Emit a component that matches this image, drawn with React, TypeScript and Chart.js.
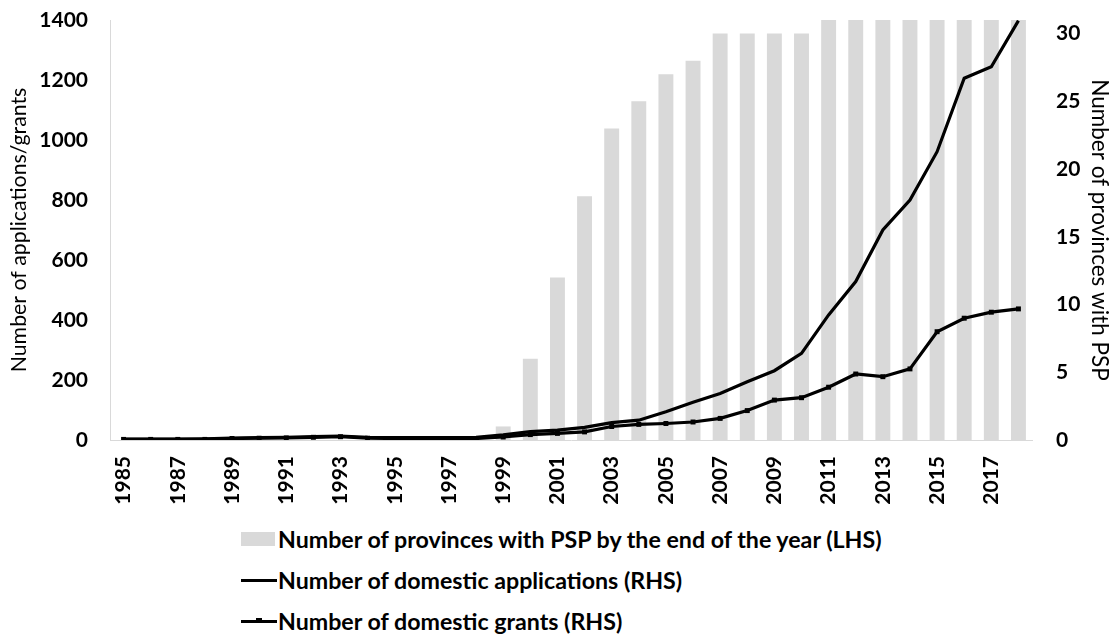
import React, { useEffect, useRef } from "react";
import { Chart, registerables } from "chart.js";

Chart.register(...registerables);

const years = [
  "1985", "1986", "1987", "1988", "1989", "1990", "1991", "1992", "1993", "1994",
  "1995", "1996", "1997", "1998", "1999", "2000", "2001", "2002", "2003", "2004",
  "2005", "2006", "2007", "2008", "2009", "2010", "2011", "2012", "2013", "2014",
  "2015", "2016", "2017", "2018",
];

// Number of provinces with PSP (plotted against the right-hand axis)
const provinces = [
  0, 0, 0, 0, 0, 0, 0, 0, 0, 0,
  0, 0, 0, 0, 1, 6, 12, 18, 23, 25,
  27, 28, 30, 30, 30, 30, 31, 31, 31, 31,
  31, 31, 31, 31,
];

// Number of domestic applications (left-hand axis)
const applications = [
  3, 3, 3, 4, 6, 8, 9, 11, 13, 9,
  8, 8, 8, 9, 17, 28, 33, 42, 58, 66,
  94, 126, 155, 194, 231, 289, 417, 528, 700, 800,
  961, 1206, 1244, 1398,
];

// Number of domestic grants (left-hand axis)
const grants = [
  2, 2, 2, 2, 5, 6, 7, 9, 11, 6,
  5, 5, 5, 5, 10, 18, 22, 27, 45, 52,
  55, 60, 72, 98, 133, 141, 176, 220, 211, 237,
  361, 406, 426, 437,
];

const leftTicks = [0, 200, 400, 600, 800, 1000, 1200, 1400];
const rightTicks = [0, 5, 10, 15, 20, 25, 30];

const FONT = "Lato, 'Open Sans', 'DejaVu Sans', sans-serif";

const legendItems = [
  { kind: "bar", text: "Number of provinces with PSP by the end of the year (LHS)" },
  { kind: "line", text: "Number of domestic applications (RHS)" },
  { kind: "marker", text: "Number of domestic grants (RHS)" },
];

const zeroPad = (s: any) => {
  s.paddingTop = 0;
  s.paddingBottom = 0;
  s.paddingLeft = 0;
  s.paddingRight = 0;
};

export default function App() {
  const ref = useRef<HTMLCanvasElement>(null);

  useEffect(() => {
    document.body.style.margin = "0";
    const tickFont = { family: FONT, size: 21, weight: "bold" as const };
    const chart = new Chart(ref.current!, {
      type: "bar",
      data: {
        labels: years,
        datasets: [
          {
            type: "line",
            label: "Number of domestic applications (RHS)",
            data: applications,
            yAxisID: "y",
            borderColor: "#000",
            backgroundColor: "#000",
            borderWidth: 3.2,
            pointRadius: 0,
            tension: 0,
            order: 1,
          },
          {
            type: "line",
            label: "Number of domestic grants (RHS)",
            data: grants,
            yAxisID: "y",
            borderColor: "#000",
            backgroundColor: "#000",
            borderWidth: 3.2,
            pointStyle: "rect",
            pointRadius: 3.5,
            pointBorderWidth: 0,
            tension: 0,
            order: 2,
          },
          {
            type: "bar",
            label: "Number of provinces with PSP by the end of the year (LHS)",
            data: provinces,
            yAxisID: "y1",
            backgroundColor: "#d9d9d9",
            barPercentage: 0.55,
            categoryPercentage: 1,
            order: 3,
          },
        ],
      },
      options: {
        responsive: false,
        animation: false,
        layout: { padding: { top: 20, left: 0, right: 0, bottom: 0 } },
        plugins: { legend: { display: false }, tooltip: { enabled: false } },
        scales: {
          x: {
            grid: { display: false, drawTicks: false },
            border: { display: true, color: "#d9d9d9", width: 1 },
            ticks: {
              autoSkip: false,
              minRotation: 90,
              maxRotation: 90,
              padding: 16,
              color: "#000",
              font: tickFont,
              callback: (_v: any, i: number) => (i % 2 === 0 ? years[i] : ""),
            },
            afterFit: (s: any) => {
              s.height = 70;
              zeroPad(s);
            },
          },
          y: {
            position: "left",
            min: 0,
            max: 1400,
            grid: { display: false, drawTicks: false },
            border: { display: true, color: "#d9d9d9", width: 1 },
            afterBuildTicks: (s: any) => {
              s.ticks = leftTicks.map((v) => ({ value: v }));
            },
            ticks: {
              padding: 22,
              color: "#000",
              font: tickFont,
              callback: (v: any) => String(v),
            },
            title: {
              display: true,
              text: "Number of applications/grants",
              color: "#000",
              font: { family: FONT, size: 21.3, weight: "normal" },
              padding: { top: 6, bottom: 4 },
            },
            afterFit: (s: any) => {
              s.width = 110;
              zeroPad(s);
            },
          },
          y1: {
            position: "right",
            min: 0,
            max: 31,
            grid: { display: false, drawTicks: false },
            border: { display: false },
            afterBuildTicks: (s: any) => {
              s.ticks = rightTicks.map((v) => ({ value: v }));
            },
            ticks: {
              padding: 24,
              color: "#000",
              font: tickFont,
              callback: (v: any) => String(v),
            },
            title: {
              display: true,
              text: "Number of provinces with PSP",
              color: "#000",
              font: { family: FONT, size: 22.5, weight: "normal" },
              padding: { top: 4, bottom: 4 },
            },
            afterFit: (s: any) => {
              s.width = 85;
              zeroPad(s);
            },
          },
        },
      },
    });
    return () => chart.destroy();
  }, []);

  return (
    <div style={{ width: 1117, height: 638, background: "#fff", fontFamily: FONT }}>
      <canvas ref={ref} width={1117} height={510} style={{ display: "block" }} />
      <div style={{ paddingLeft: 241, paddingTop: 8 }}>
        {legendItems.map((it) => (
          <div
            key={it.text}
            style={{ height: 41, display: "flex", alignItems: "center", fontSize: 23.2, fontWeight: "bold", color: "#000" }}
          >
            <span style={{ position: "relative", width: 37, height: 14, display: "inline-block", flex: "none" }}>
              {it.kind === "bar" && (
                <span style={{ position: "absolute", left: 0, top: 0, width: 34, height: 14, background: "#d9d9d9" }} />
              )}
              {it.kind !== "bar" && (
                <span style={{ position: "absolute", left: 0, top: 6, width: 36, height: 3, background: "#000" }} />
              )}
              {it.kind === "marker" && (
                <span style={{ position: "absolute", left: 15, top: 4, width: 6, height: 5, background: "#000" }} />
              )}
            </span>
            <span style={{ whiteSpace: "nowrap" }}>{it.text}</span>
          </div>
        ))}
      </div>
    </div>
  );
}
